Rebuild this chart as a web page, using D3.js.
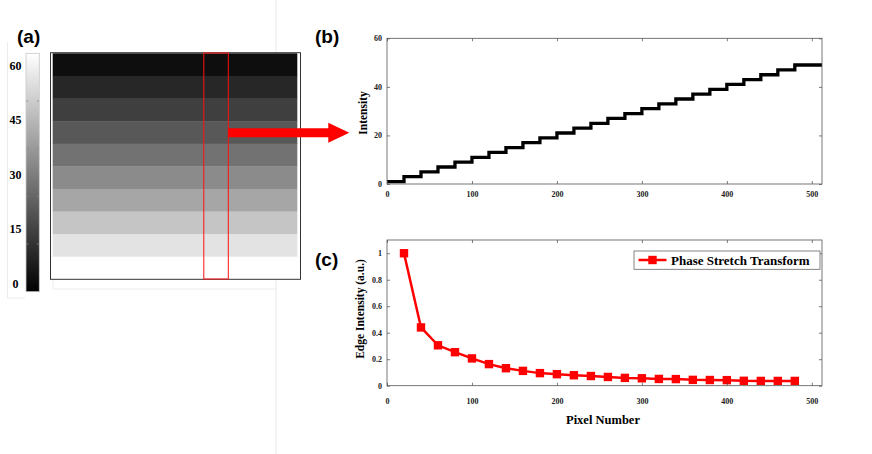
<!DOCTYPE html>
<html><head><meta charset="utf-8">
<script src="https://cdn.jsdelivr.net/npm/d3@7/dist/d3.min.js"></script>
<style>body{margin:0;background:#fff}svg{display:block}</style>
</head><body>
<svg id="c" width="872" height="454"></svg>
<script>
// ---- data ----
const stripeGray = [14, 39, 63, 88, 114, 139, 166, 197, 227, 255]; // panel (a) rows, top to bottom
const colorbarTicks = [0, 15, 30, 45, 60];
const stepX = [0,20,40,60,80,100,120,140,160,180,200,220,240,260,280,300,320,340,360,380,400,420,440,460,480,512];
const stepY = [1,3,5,7,9,11,13,15,17,19,21,23,25,27,29,31,33,35,37,39,41,43,45,47,49,49];
const bXTicks = [0,100,200,300,400,500];
const bYTicks = [0,20,40,60];
const pstX = [20,40,60,80,100,120,140,160,180,200,220,240,260,280,300,320,340,360,380,400,420,440,460,480];
const pstY = [1.0,0.44,0.305,0.253,0.206,0.163,0.132,0.112,0.095,0.087,0.079,0.073,0.066,0.059,0.056,0.051,0.050,0.044,0.043,0.042,0.037,0.036,0.036,0.036];
const cXTicks = [0,100,200,300,400,500];
const cYTicks = [0,0.2,0.4,0.6,0.8,1];
const legendLabel = "Phase Stretch Transform";

const svg = d3.select("#c");
const SERIF = "'Liberation Serif','Times New Roman',serif";
const SANS = "'Liberation Sans',Arial,sans-serif";

svg.append("rect").attr("width",872).attr("height",454).attr("fill","#fff");

// faint background frame lines
svg.append("line").attr("x1",276).attr("x2",276).attr("y1",0).attr("y2",454).attr("stroke","#e8e8e8").attr("stroke-width",1);
svg.append("path").attr("d","M7.5,42V298H25").attr("fill","none").attr("stroke","#ececec");
svg.append("path").attr("d","M53,279V289H276").attr("fill","none").attr("stroke","#ececec");

// ---- panel (a) ----
const aX0 = 52.7, aX1 = 297.3;
const aY = d3.scaleBand().domain(d3.range(stripeGray.length)).range([53.3, 279.3]);
const ga = svg.append("g");
ga.append("rect").attr("x",50.5).attr("y",52.7).attr("width",250).attr("height",226.6).attr("fill","#fff");
ga.selectAll("rect.s").data(stripeGray).join("rect").attr("class","s")
  .attr("x",aX0).attr("width",aX1-aX0)
  .attr("y",(d,i)=>aY(i)).attr("height",aY.bandwidth()+0.4)
  .attr("fill",d=>d3.rgb(d,d,d));
ga.append("rect").attr("x",50.5).attr("y",52.7).attr("width",250).attr("height",226.6)
  .attr("fill","none").attr("stroke","#333").attr("stroke-width",1);
ga.append("rect").attr("x",203.8).attr("y",53).attr("width",24.5).attr("height",226)
  .attr("fill","none").attr("stroke","#ff1010").attr("stroke-width",1);

// colorbar
const defs = svg.append("defs");
const grad = defs.append("linearGradient").attr("id","cb").attr("x1",0).attr("x2",0).attr("y1",0).attr("y2",1);
grad.append("stop").attr("offset","0%").attr("stop-color","#fff");
grad.append("stop").attr("offset","100%").attr("stop-color","#000");
svg.append("rect").attr("x",26).attr("y",53.3).attr("width",13.3).attr("height",238.4)
  .attr("fill","url(#cb)").attr("stroke","#c8c8c8").attr("stroke-width",0.8);
const cbY = d3.scaleLinear().domain([0,60]).range([283.3,65.7]);
svg.selectAll("text.cb").data(colorbarTicks).join("text").attr("class","cb")
  .attr("x",15.5).attr("y",d=>cbY(d)).attr("dy","0.35em").attr("text-anchor","middle")
  .attr("font-family",SERIF).attr("font-weight","bold").attr("font-size",12).text(d=>d);
// small tick dots on colorbar
const cbFrac = d3.scaleLinear().domain([0,5]).range([291.7,53.3]);
[1,2,3,4].forEach(k=>{
  svg.append("line").attr("x1",26.5).attr("x2",28.5).attr("y1",cbFrac(k)).attr("y2",cbFrac(k)).attr("stroke","#888").attr("stroke-width",0.8);
  svg.append("line").attr("x1",36.8).attr("x2",38.8).attr("y1",cbFrac(k)).attr("y2",cbFrac(k)).attr("stroke","#888").attr("stroke-width",0.8);
});

// red arrow
svg.append("path").attr("d","M228.3,128.3H328.3V122.7L349.3,132.7L328.3,142.7V137.3H228.3Z").attr("fill","#ff0000");

// panel labels
[["(a)",17,43],["(b)",315,43],["(c)",315,266]].forEach(([t,x,y])=>{
  svg.append("text").attr("x",x).attr("y",y).attr("font-family",SANS).attr("font-weight","bold").attr("font-size",19).text(t);
});

// ---- axes helper ----
function frame(g, x, y, xt, yt, xpad, xfmt, yfmt){
  const [x0,x1]=x.range(), [y0,y1]=y.range();
  const ax = g.append("g").attr("transform",`translate(0,${y0})`)
    .call(d3.axisBottom(x).tickValues(xt).tickSizeInner(-3).tickSizeOuter(0).tickPadding(xpad).tickFormat(xfmt));
  g.append("g").attr("transform",`translate(0,${y1})`)
    .call(d3.axisTop(x).tickValues(xt).tickSizeInner(-3).tickSizeOuter(0).tickFormat(""));
  const ay = g.append("g").attr("transform",`translate(${x0},0)`)
    .call(d3.axisLeft(y).tickValues(yt).tickSizeInner(-3).tickSizeOuter(0).tickPadding(5).tickFormat(yfmt));
  g.append("g").attr("transform",`translate(${x1},0)`)
    .call(d3.axisRight(y).tickValues(yt).tickSizeInner(-3).tickSizeOuter(0).tickFormat(""));
  g.selectAll(".domain").remove();
  g.selectAll(".tick line").attr("stroke","#444").attr("stroke-width",0.7);
  g.selectAll(".tick text").attr("font-family",SERIF).attr("font-weight","bold").attr("font-size",8).attr("fill","#222");
  g.append("rect").attr("x",x0).attr("y",y1).attr("width",x1-x0).attr("height",y0-y1)
    .attr("fill","none").attr("stroke","#555").attr("stroke-width",0.8);
}

// ---- panel (b) ----
const bx = d3.scaleLinear().domain([0,512]).range([387,822]);
const by = d3.scaleLinear().domain([0,60]).range([184,38.3]);
const gb = svg.append("g");
gb.append("path").datum(stepX.map((x,i)=>[x,stepY[i]]))
  .attr("d",d3.line().x(d=>bx(d[0])).y(d=>by(d[1])).curve(d3.curveStepAfter))
  .attr("fill","none").attr("stroke","#000").attr("stroke-width",3.3);
frame(gb,bx,by,bXTicks,bYTicks,7,d3.format("d"),d3.format("d"));
gb.append("text").attr("transform","translate(367,113) rotate(-90)").attr("text-anchor","middle")
  .attr("font-family",SERIF).attr("font-weight","bold").attr("font-size",11.5).text("Intensity");

// ---- panel (c) ----
const cx = d3.scaleLinear().domain([0,512]).range([387,822]);
const cy = d3.scaleLinear().domain([0,1.1]).range([385.7,240]);
const gc = svg.append("g");
const pts = pstX.map((x,i)=>[x,pstY[i]]);
gc.append("path").datum(pts).attr("d",d3.line().x(d=>cx(d[0])).y(d=>cy(d[1])))
  .attr("fill","none").attr("stroke","#ff0000").attr("stroke-width",2.5);
gc.selectAll("rect.m").data(pts).join("rect").attr("class","m")
  .attr("x",d=>cx(d[0])-4.2).attr("y",d=>cy(d[1])-4.2).attr("width",8.4).attr("height",8.4)
  .attr("fill","#ff0000");
frame(gc,cx,cy,cXTicks,cYTicks,13,d3.format("d"),d=>d3.format("~g")(d));
gc.append("text").attr("transform","translate(364,309) rotate(-90)").attr("text-anchor","middle")
  .attr("font-family",SERIF).attr("font-weight","bold").attr("font-size",11.5).text("Edge Intensity (a.u.)");
gc.append("text").attr("x",603).attr("y",424).attr("text-anchor","middle")
  .attr("font-family",SERIF).attr("font-weight","bold").attr("font-size",12.5).text("Pixel Number");
// legend
const lg = gc.append("g");
lg.append("rect").attr("x",634).attr("y",251).attr("width",186).attr("height",18.3)
  .attr("fill","#fff").attr("stroke","#666").attr("stroke-width",0.8);
lg.append("line").attr("x1",638.5).attr("x2",666.5).attr("y1",260).attr("y2",260).attr("stroke","#ff0000").attr("stroke-width",2.5);
lg.append("rect").attr("x",648.3).attr("y",255.8).attr("width",8.4).attr("height",8.4).attr("fill","#ff0000");
lg.append("text").attr("x",671).attr("y",264.5).attr("font-family",SERIF).attr("font-weight","bold").attr("font-size",13).text(legendLabel);
</script>
</body></html>
